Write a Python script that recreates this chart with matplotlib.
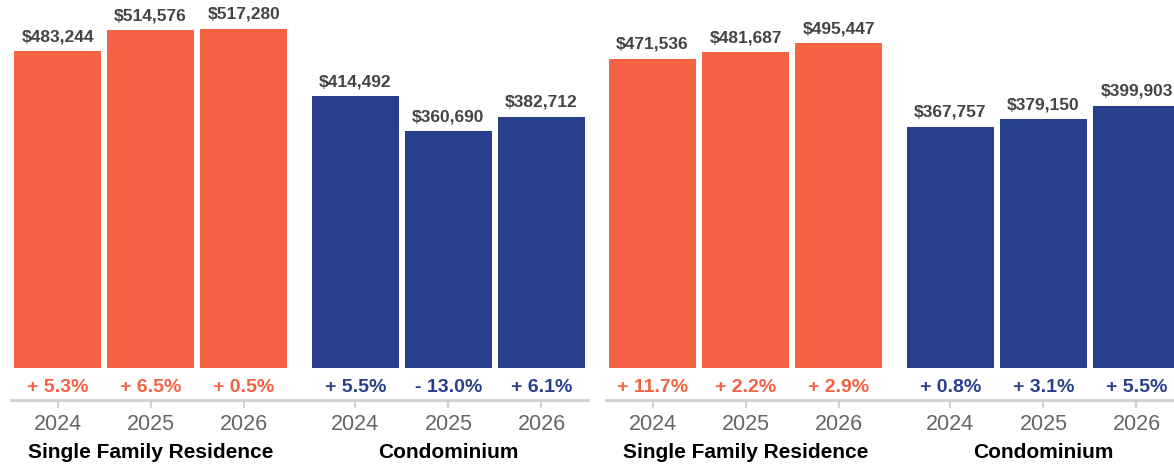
import matplotlib
matplotlib.use("Agg")
import matplotlib.pyplot as plt

plt.rcParams['font.family'] = ['Liberation Sans', 'DejaVu Sans']

years = ["2024", "2025", "2026"]
groups = ["Single Family Residence", "Condominium"]

left_sfr = [483244, 514576, 517280]
left_condo = [414492, 360690, 382712]
left_sfr_pct = [5.3, 6.5, 0.5]
left_condo_pct = [5.5, -13.0, 6.1]

right_sfr = [471536, 481687, 495447]
right_condo = [367757, 379150, 399903]
right_sfr_pct = [11.7, 2.2, 2.9]
right_condo_pct = [0.8, 3.1, 5.5]

ORANGE = "#F46243"
NAVY = "#283F8B"

W, H = 1174, 466
fig = plt.figure(figsize=(W / 100, H / 100), dpi=100)

def px(v):
    return v * 72 / 100.0

def fmt_pct(p):
    sign = "+" if p >= 0 else "-"
    return f"{sign} {abs(p):.1f}%"

def draw_panel(left_px, sfr, condo, sfr_pct, condo_pct):
    ax = fig.add_axes([left_px / W, 98 / H, 577 / W, 368 / H])
    for s in ("left", "right", "top"):
        ax.spines[s].set_visible(False)
    ax.spines["bottom"].set_position(("outward", px(32)))
    ax.spines["bottom"].set_color("#d0d0d0")
    ax.spines["bottom"].set_linewidth(2)

    x_sfr = [0, 1, 2]
    x_condo = [3.2, 4.2, 5.2]
    for xs, vals, pcts, col in ((x_sfr, sfr, sfr_pct, ORANGE), (x_condo, condo, condo_pct, NAVY)):
        ax.bar(xs, vals, width=0.935, color=col, linewidth=0)
        for x, v, p in zip(xs, vals, pcts):
            ax.annotate(f"${v:,}", xy=(x, v), xytext=(0, px(10)), textcoords="offset points",
                        ha="center", va="baseline", fontsize=12.5, fontweight="bold",
                        color="#444444", annotation_clip=False)
            ax.annotate(fmt_pct(p), xy=(x, 0), xytext=(0, px(-19)), textcoords="offset points",
                        ha="center", va="center", fontsize=14, fontweight="bold",
                        color=col, annotation_clip=False)
    ax.set_xlim(-0.5, 5.7)
    ax.set_ylim(0, 561000)
    ax.set_xticks(x_sfr + x_condo)
    ax.set_xticklabels(years + years)
    ax.tick_params(axis="x", length=6, width=1.5, color="#d0d0d0", pad=4,
                   labelsize=15.5, labelcolor="#666666")
    ax.set_yticks([])
    for gx, g in ((1, groups[0]), (4.2, groups[1])):
        ax.annotate(g, xy=(gx, 0), xytext=(0, px(-85)), textcoords="offset points",
                    ha="center", va="center", fontsize=15, fontweight="bold",
                    color="#000000", annotation_clip=False)
    ax.patch.set_alpha(0)
    return ax

draw_panel(11, left_sfr, left_condo, left_sfr_pct, left_condo_pct)
draw_panel(606, right_sfr, right_condo, right_sfr_pct, right_condo_pct)

fig.savefig("out.png", dpi=100)
